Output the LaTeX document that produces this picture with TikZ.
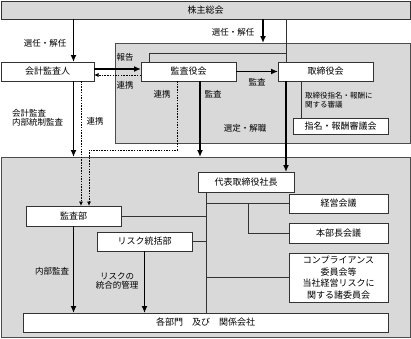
\documentclass[tikz,border=0pt]{standalone}
\usepackage{fontspec}
\newfontfamily\jpfont{Noto Sans CJK JP}
\usetikzlibrary{arrows.meta}

\begin{document}
\begin{tikzpicture}[x=1pt,y=-1pt,>=Latex,
  box/.style={draw=black!80,fill=white,line width=0.6pt,inner sep=0pt,outer sep=0pt,
    minimum height=19pt,font=\jpfont\fontsize{9}{11.5}\selectfont},
  region/.style={draw=black!70,fill=black!15,line width=0.6pt,inner sep=0pt,outer sep=0pt},
  lbl/.style={font=\jpfont\fontsize{8.5}{9.5}\selectfont,inner sep=0pt},
  arr/.style={-{Latex[length=7pt,width=6pt]},line width=1.6pt},
  dot/.style={-{Latex[length=4.5pt,width=4pt]},line width=0.8pt,dash pattern=on 1.5pt off 1.2pt},
  link/.style={line width=0.6pt,draw=black!80}]
  \useasboundingbox (0,0) rectangle (411,338);
  \node[region,minimum width=295,minimum height=100] (board) at (262.5,93) {};
  \node[region,minimum width=409,minimum height=180] (exec) at (205.5,247) {};
  \node[box,fill=black!15,minimum width=409,minimum height=18] (sokai) at (205.5,10) {株主総会};
  \node[box,minimum width=93] (kaikei) at (47.5,71.5) {会計監査人};
  \node[box,minimum width=95] (kansayaku) at (188.5,71.5) {監査役会};
  \node[box,minimum width=95] (torishimari) at (325.5,71.5) {取締役会};
  \node[box,minimum width=95,minimum height=16] (shimei) at (340.5,126) {指名・報酬審議会};
  \node[box,minimum width=96,minimum height=20] (daihyo) at (246,182) {代表取締役社長};
  \node[box,minimum width=99] (keiei) at (338.5,203.5) {経営会議};
  \node[box,minimum width=99,minimum height=20] (honbu) at (338.5,233) {本部長会議};
  \node[box,minimum width=99,minimum height=49,align=center] (comp) at (338.5,277.5)
    {コンプライアンス\\委員会等\\当社経営リスクに\\関する諸委員会};
  \node[box,minimum width=95,minimum height=20] (kansabu) at (73.5,216) {監査部};
  \node[box,minimum width=95] (risk) at (144.5,241.5) {リスク統括部};
  \node[box,minimum width=365] (kakubu) at (205.5,322.5) {各部門　及び　関係会社};

  \coordinate (sel) at (263,0);
  \coordinate (rep) at (149,53);
  \coordinate (ax) at (286,0);
  \coordinate (ks) at (200,0);
  \coordinate (rk) at (177,150);
  \coordinate (rl) at (89,150);
  \coordinate (kd) at (81,0);
  \coordinate (sh) at (301,0);
  \coordinate (tr) at (206,0);
  \coordinate (br) at (248,0);

  \draw[arr] (kansabu.north |- sokai.south) -- (kansabu.north |- kaikei.north);
  \draw[arr] (sel |- sokai.south) -- (sel |- board.north);
  \draw[link] (ax |- sokai.south) -- (ax |- torishimari.north);
  \draw[link] (rep |- kansayaku.north) -- (rep) -- (ax |- rep);
  \draw[arr] ([yshift=2.5pt]kaikei.east) -- ([yshift=2.5pt]kaikei.east -| kansayaku.west);
  \draw[dot] ([yshift=-3.5pt]kansayaku.west) -- ([yshift=-3.5pt]kansayaku.west -| kaikei.east);
  \draw[arr] (kansayaku.east) -- (torishimari.west);
  \draw[arr] (ks |- kansayaku.south) -- (ks |- exec.north);
  \draw[arr] (ax |- torishimari.south) -- (ax |- daihyo.north);
  \draw[link] (sh |- torishimari.south) -- (sh |- shimei.north);
  \draw[arr] (kansabu.north |- kaikei.south) -- (kansabu.north |- exec.north);
  \draw[dot] (kd |- kaikei.south) -- (kd |- kansabu.north);
  \draw[dot] (rk |- kansayaku.south) -- (rk) -- (rl) -- (rl |- kansabu.north);
  \draw[arr] (kansabu.south) -- (kansabu.south |- kakubu.north);
  \draw[arr] (risk.south) -- (risk.south |- kakubu.north);
  \draw[link] (tr |- daihyo.south) -- (tr |- kakubu.north);
  \draw[link] (tr |- keiei.west) -- (keiei.west);
  \draw[link] (br |- keiei.west) -- (br |- honbu.west) -- (honbu.west);
  \draw[link] (kansabu.east) -- (tr |- kansabu.east);
  \draw[link] (risk.east) -- (tr |- risk.east);
  \draw[link] (tr |- comp.west) -- (comp.west);

  \node[lbl] (l1) at (45,43) {選任・解任};
  \node[lbl] (l2) at (233,32) {選任・解任};
  \node[lbl] (l3) at (125,57) {報告};
  \node[lbl] (l4) at (125,85) {連携};
  \node[lbl] (l5) at (257,82) {監査};
  \node[lbl] (l6) at (162,94) {連携};
  \node[lbl] (l7) at (213,94) {監査};
  \node[lbl] (l8) at (245,128) {選定・解職};
  \node[lbl,anchor=west,align=left,font=\jpfont\fontsize{7.5}{8.5}\selectfont] (l9) at (305,100)
    {取締役指名・報酬に\\関する審議};
  \node[lbl,anchor=west,align=left] (l10) at (12,118) {会計監査\\内部統制監査};
  \node[lbl] (l11) at (95,121) {連携};
  \node[lbl] (l12) at (52,271) {内部監査};
  \node[lbl,align=center] (l13) at (117,281) {リスクの\\統合的管理};
\end{tikzpicture}
\end{document}
